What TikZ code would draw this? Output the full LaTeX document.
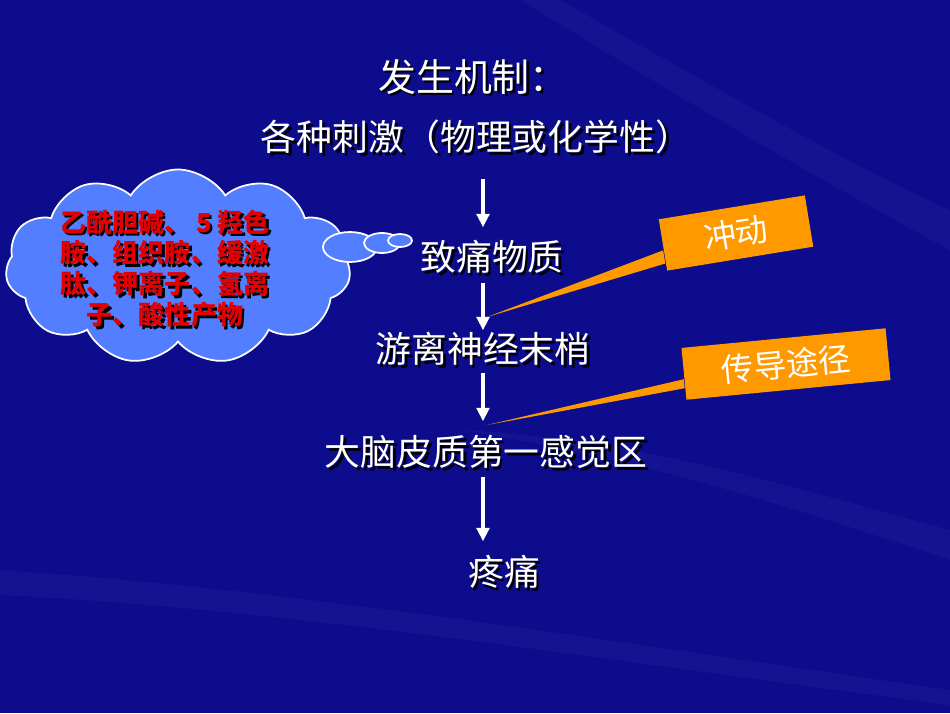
\documentclass[tikz,border=0pt]{standalone}
\usepackage{fontspec}
\setmainfont{Noto Sans CJK SC}
\usetikzlibrary{positioning,calc,arrows.meta,shapes.symbols}
\tikzstyle{slide} = [y = -1cm, every node/.style={inner sep=0pt}]
\definecolor{bgBlue}{RGB}{12,12,140}
\definecolor{cloudBlue}{RGB}{82,126,255}
\definecolor{calloutOrange}{RGB}{255,153,0}
\definecolor{labelRed}{RGB}{228,0,0}
\tikzstyle{stepText} = [text=white, font=\fontsize{10.2}{12}\selectfont]
\tikzstyle{flow} = [draw=white, line width=0.9pt, -{Triangle[width=3.6pt,length=3.8pt]}]
\tikzstyle{calloutBox} = [fill=calloutOrange, minimum height=0.52cm, text=white]
\tikzstyle{calloutTail} = [fill=calloutOrange]
\tikzstyle{cloudStyle} = [draw=white, line width=0.5pt, fill=cloudBlue]
\tikzstyle{streak} = [fill=white, opacity=0.035]
\newcommand{\shadowed}[1]{\rlap{\hspace{0.028cm}\raisebox{-0.028cm}{\color{black}#1}}#1}

\begin{document}
\begin{tikzpicture}[slide]
  % background
  \fill[bgBlue] (0,0) rectangle (9.5,7.13);
  \fill[streak] (5.6,0) .. controls (7.2,0.9) and (8.4,1.6) .. (9.5,2.1) -- (9.5,2.5) .. controls (8.2,1.8) and (7,1.1) .. (5.2,0) -- cycle;
  \fill[streak] (4.6,4.3) .. controls (6.5,4.4) and (8,4.9) .. (9.5,5.3) -- (9.5,5.6) .. controls (8,5.1) and (6.5,4.6) .. (4.6,4.3) -- cycle;
  \fill[streak] (0,5.7) .. controls (3,5.9) and (6,6.4) .. (9.5,6.9) -- (9.5,7.05) .. controls (6,6.6) and (3,6.1) .. (0,5.95) -- cycle;
  \coordinate (axis) at (4.83,0);

  % main chain
  \node[stepText, font=\fontsize{10.8}{12}\selectfont] (title) at (4.73,0.78) {\shadowed{发生机制：}};
  \node[stepText] (stimulus) at (4.76,1.38) {\shadowed{各种刺激（物理或化学性）}};
  \node[stepText] (algogen) at (4.92,2.58) {\shadowed{致痛物质}};
  \node[stepText] (nerveEnd) at (4.83,3.50) {\shadowed{游离神经末梢}};
  \node[stepText] (cortex) at (4.86,4.53) {\shadowed{大脑皮质第一感觉区}};
  \node[stepText] (pain) at (5.04,5.73) {\shadowed{疼痛}};

  \draw[flow] ($(stimulus.south -| axis)+(0,0.22)$) -- ($(algogen.north -| axis)-(0,0.12)$);
  \draw[flow] ($(algogen.south -| axis)+(0,0.06)$) -- ($(nerveEnd.north -| axis)-(0,0.01)$);
  \draw[flow] ($(nerveEnd.south -| axis)+(0,0.04)$) -- ($(cortex.north -| axis)-(0,0.13)$);
  \draw[flow] ($(cortex.south -| axis)+(0,0.05)$) -- ($(pain.north -| axis)-(0,0.13)$);

  % callouts
  \coordinate (impulseTip) at (4.87,3.17);
  \coordinate (pathTip) at (4.87,4.25);
  \node[calloutBox, minimum width=1.48cm, rotate=9.3, font=\fontsize{9.2}{10}\selectfont] (impulse) at (7.36,2.33) {冲动};
  \fill[calloutTail] (impulseTip) -- ($(impulse.north west)!0.6!(impulse.south west)$) -- ($(impulse.north west)!0.85!(impulse.south west)$) -- cycle;
  \node[calloutBox, minimum width=2.05cm, rotate=5.5, font=\fontsize{9.2}{10}\selectfont] (pathway) at (7.86,3.64) {传导途径};
  \fill[calloutTail] (pathTip) -- ($(pathway.north west)!0.6!(pathway.south west)$) -- ($(pathway.north west)!0.77!(pathway.south west)$) -- cycle;

  % thought cloud
  \node[cloud, cloud puffs=11, cloud puff arc=115, cloud ignores aspect, minimum width=3.45cm, minimum height=1.95cm, cloudStyle] (agents) at (1.78,2.67) {};
  \draw[cloudStyle] (3.50,2.47) ellipse (0.27 and 0.15);
  \draw[cloudStyle] (3.82,2.43) ellipse (0.18 and 0.10);
  \draw[cloudStyle] (4.00,2.405) ellipse (0.12 and 0.065);
  \node[align=center, text=labelRed, font=\bfseries\fontsize{7.4}{8.8}\selectfont] (agentsText) at (1.65,2.70)
    {\shadowed{乙酰胆碱、 5 羟色}\\\shadowed{胺、组织胺、缓激}\\\shadowed{肽、钾离子、氢离}\\\shadowed{子、酸性产物}};
\end{tikzpicture}
\end{document}
